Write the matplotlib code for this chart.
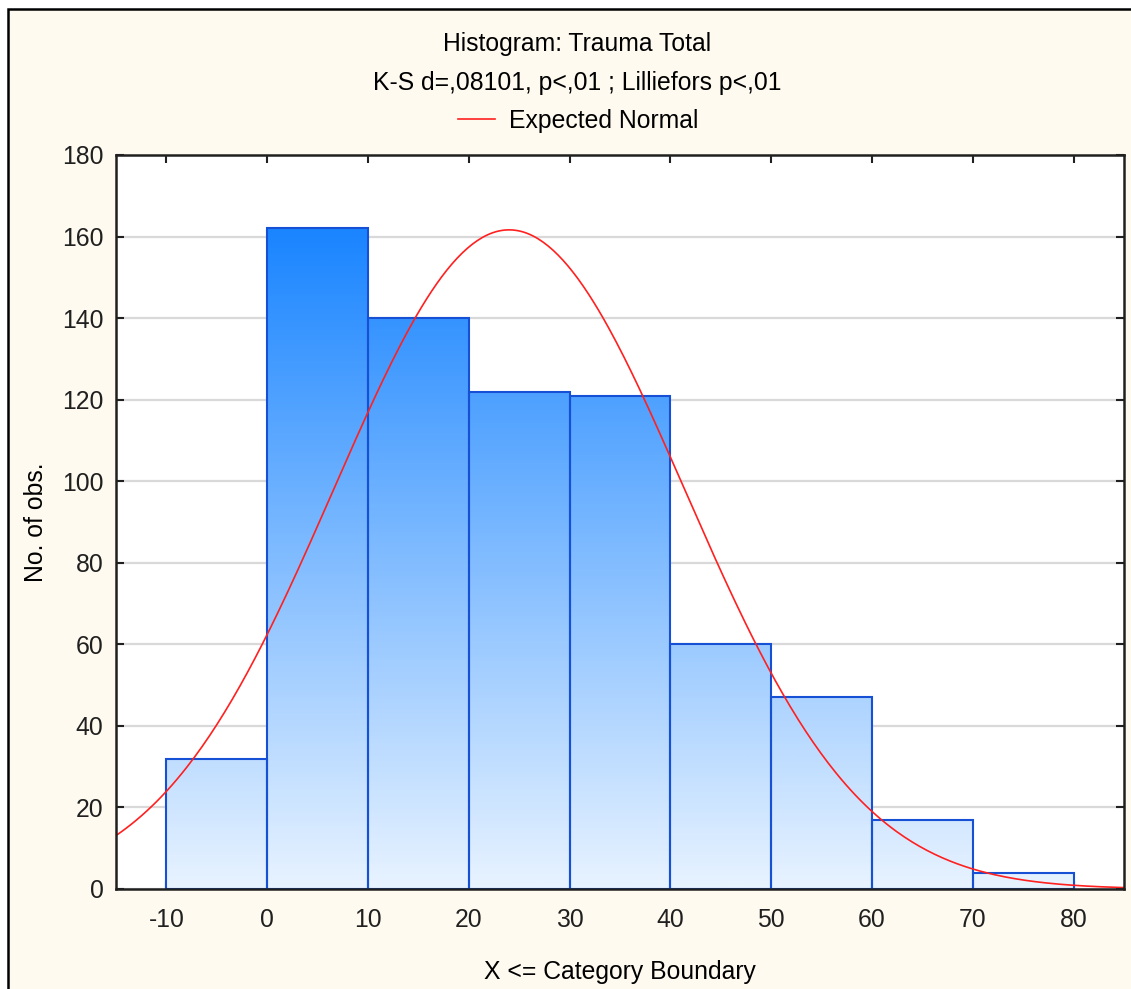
import numpy as np
import matplotlib
matplotlib.use("Agg")
import matplotlib.pyplot as plt
from matplotlib.colors import LinearSegmentedColormap
from matplotlib.patches import Rectangle

# histogram data
bin_edges = [-10, 0, 10, 20, 30, 40, 50, 60, 70, 80]
counts = [32, 162, 140, 122, 121, 60, 47, 17, 4]

# expected normal parameters (estimated)
n_total = sum(counts)
mu = 24.0
sigma = 17.4

title_txt = "Histogram: Trauma Total"
sub_txt = "K-S d=,08101, p<,01 ; Lilliefors p<,01"
legend_txt = "Expected Normal"
xlabel_txt = "X <= Category Boundary"
ylabel_txt = "No. of obs."

plt.rcParams['font.family'] = ['Liberation Sans', 'DejaVu Sans']
plt.rcParams['axes.unicode_minus'] = False
FS = 17.8
W, H = 1131, 989

fig = plt.figure(figsize=(W / 100, H / 100), dpi=100, facecolor='white')
# cream panel with black border (right/bottom edges run off the image)
fig.patches.append(Rectangle((8 / W, -0.1), 1.2, 1 - 9 / H + 0.1,
                             transform=fig.transFigure, facecolor='#fefaef',
                             edgecolor='black', linewidth=1.8, zorder=-10))

ax = fig.add_axes([116 / W, 1 - 889 / H, (1124 - 116) / W, (889 - 155) / H])
ax.set_facecolor('white')

ax.set_yticks(range(0, 181, 20))
ax.set_xticks(range(-10, 81, 10))
ax.yaxis.grid(True, color='#d9d9d9', linewidth=1.6, zorder=0)
ax.set_axisbelow(True)

cmap = LinearSegmentedColormap.from_list('stat', ['#e8f3ff', '#1a85ff'])
vmax = max(counts)
for i, c in enumerate(counts):
    x0, x1 = bin_edges[i], bin_edges[i + 1]
    grad = np.linspace(0, c, 200).reshape(-1, 1)
    ax.imshow(grad, cmap=cmap, vmin=0, vmax=vmax, origin='lower',
              extent=(x0, x1, 0, c), aspect='auto', zorder=2,
              interpolation='bilinear')
ax.bar(bin_edges[:-1], counts, width=10, align='edge', facecolor='none',
       edgecolor='#1550d5', linewidth=1.5, zorder=3)

xs = np.linspace(-15, 85, 400)
ys = n_total * 10 / (sigma * np.sqrt(2 * np.pi)) * np.exp(-(xs - mu) ** 2 / (2 * sigma ** 2))
line, = ax.plot(xs, ys, color='#ff2020', linewidth=1.2, zorder=4, label=legend_txt)

ax.set_xlim(-15, 85)
ax.set_ylim(0, 180)

for s in ax.spines.values():
    s.set_linewidth(1.8)
    s.set_color('#202020')
    s.set_zorder(5)

ax.tick_params(axis='both', direction='in', length=6, width=1.5,
               top=True, right=True, labelsize=FS, colors='#202020')
ax.tick_params(axis='x', pad=14)
ax.tick_params(axis='y', pad=9)

ax.set_xlabel(xlabel_txt, fontsize=FS, labelpad=20)
ax.set_ylabel(ylabel_txt, fontsize=FS, labelpad=10)

fig.text(577 / W, 1 - 44 / H, title_txt, ha='center', va='center', fontsize=FS)
fig.text(577 / W, 1 - 83 / H, sub_txt, ha='center', va='center', fontsize=FS)
fig.legend(handles=[line], loc='center', bbox_to_anchor=(578 / W, 1 - 121 / H),
           frameon=False, fontsize=FS, handlelength=1.5, handletextpad=0.55)

fig.savefig('out.png', dpi=100, facecolor=fig.get_facecolor())
